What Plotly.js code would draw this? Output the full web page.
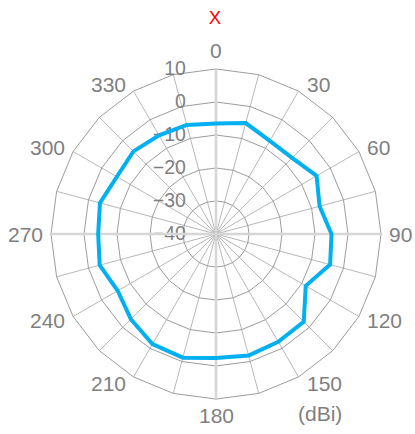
<!DOCTYPE html>
<html>
<head>
<meta charset="utf-8">
<script src="https://cdn.plot.ly/plotly-3.0.1.min.js"></script>
<style>html,body{margin:0;padding:0;background:#fff;}#chart{width:415px;height:434px;}</style>
</head>
<body>
<div id="chart"></div>
<script>
// Angles (degrees, clockwise from top) and gain values (dBi)
var angles = ['0', '15', '30', '45', '60', '75', '90', '105', '120', '135', '150', '165',
              '180', '195', '210', '225', '240', '255', '270', '285', '300', '315', '330', '345'];
var gain = [-6.5, -5.2, -7.4, -7.4, -4.8, -7.5, -5.0, -4.2, -8.6, -2.4, -2.3, -1.9,
            -2.4, -1.2, -1.5, -3.5, -5.6, -3.5, -4.3, -3.6, -5.3, -4.6, -5.5, -5.8];
var angleLabels = ['0', '30', '60', '90', '120', '150', '180', '210', '240', '270', '300', '330'];
var radialTicks = [-40, -30, -20, -10, 0, 10];
var radialRange = [-40, 10];
var titleText = 'X';
var unitText = '(dBi)';

var W = 415, H = 434;
var thetaClosed = angles.concat([angles[0]]);
var rClosed = gain.concat([gain[0]]);

var angFont = {family: 'Liberation Sans, Arial, sans-serif', size: 21, color: '#7f7f7f'};
var radFont = {family: 'Liberation Sans, Arial, sans-serif', size: 19.5, color: '#7f7f7f'};
var dom = {x: [0.1229, 0.9181], y: [0.0806, 0.8410]};

// angular labels placed just outside the outer polygon vertex of each labelled angle
var cxPx = (dom.x[0] + dom.x[1]) / 2 * W;
var cyPx = H - (dom.y[0] + dom.y[1]) / 2 * H;
var Rpx = (dom.x[1] - dom.x[0]) / 2 * W;
var annotations = angleLabels.map(function (lab) {
  var t = Number(lab) * Math.PI / 180;
  var s = Math.sin(t), c = Math.cos(t);
  if (Math.abs(s) < 1e-6) { s = 0; }
  var vx = cxPx + Rpx * s, vy = cyPx - Rpx * c;
  var px, py, xa;
  if (s === 0) {
    px = vx; xa = 'center';
    py = c > 0 ? vy - 19 : vy + 16;
  } else {
    xa = s > 0 ? 'left' : 'right';
    px = vx + (s > 0 ? 6 : -6);
    py = vy - c * 7.5;
  }
  return {text: lab, xref: 'paper', yref: 'paper', x: px / W, y: (H - py) / H,
          xanchor: xa, yanchor: 'middle', showarrow: false, font: angFont};
});
annotations.push({
  text: unitText, xref: 'paper', yref: 'paper', x: 320 / W, y: (H - 413) / H,
  xanchor: 'center', yanchor: 'middle', showarrow: false, font: angFont
});

function axisOnlyPolar(angle) {
  return {
    domain: dom,
    bgcolor: 'rgba(0,0,0,0)',
    radialaxis: {range: radialRange, angle: angle, showline: true, linecolor: '#d6d6d6', linewidth: 2.5,
                 showgrid: false, showticklabels: false, ticks: ''},
    angularaxis: {rotation: 90, direction: 'clockwise', showgrid: false, showline: false,
                  showticklabels: false, ticks: ''}
  };
}

var traces = [
  {type: 'scatterpolar', r: gain, theta: angles, subplot: 'polar', mode: 'none', showlegend: false, hoverinfo: 'skip'},
  {type: 'scatterpolar', r: [], theta: [], subplot: 'polar2', showlegend: false, hoverinfo: 'skip'},
  {type: 'scatterpolar', r: [], theta: [], subplot: 'polar3', showlegend: false, hoverinfo: 'skip'},
  {type: 'scatterpolar', r: rClosed, theta: thetaClosed, subplot: 'polar4', mode: 'lines',
   line: {color: '#00b0f0', width: 4}, showlegend: false}
];

var p4 = axisOnlyPolar(270);
p4.radialaxis.layer = 'below traces';
p4.angularaxis.type = 'category';
p4.angularaxis.categoryarray = angles;
p4.gridshape = 'linear';

var layout = {
  width: W, height: H,
  margin: {l: 0, r: 0, t: 0, b: 0},
  paper_bgcolor: '#ffffff',
  showlegend: false,
  title: {text: titleText, font: {family: 'Liberation Sans, Arial, sans-serif', size: 18.5, color: '#ff0000'},
          x: 0.518, xanchor: 'center', y: 0.959, yanchor: 'middle'},
  polar: {
    domain: dom,
    bgcolor: 'rgba(0,0,0,0)',
    gridshape: 'linear',
    radialaxis: {
      range: radialRange, angle: 90, side: 'counterclockwise', tickangle: 90,
      tickvals: radialTicks, ticks: 'outside', ticklen: 22, tickcolor: 'rgba(0,0,0,0)',
      tickfont: radFont, showline: true, linecolor: '#d6d6d6', linewidth: 2.5,
      showgrid: true, gridcolor: '#9c9c9c', gridwidth: 1
    },
    angularaxis: {
      type: 'category', categoryarray: angles,
      rotation: 90, direction: 'clockwise', showticklabels: false, ticks: '',
      showline: true, linecolor: '#9c9c9c', linewidth: 1,
      showgrid: true, gridcolor: '#b8b8b8', gridwidth: 1
    }
  },
  polar2: axisOnlyPolar(0),
  polar3: axisOnlyPolar(180),
  polar4: p4,
  annotations: annotations
};

Plotly.newPlot('chart', traces, layout, {displayModeBar: false, staticPlot: true});
</script>
</body>
</html>
